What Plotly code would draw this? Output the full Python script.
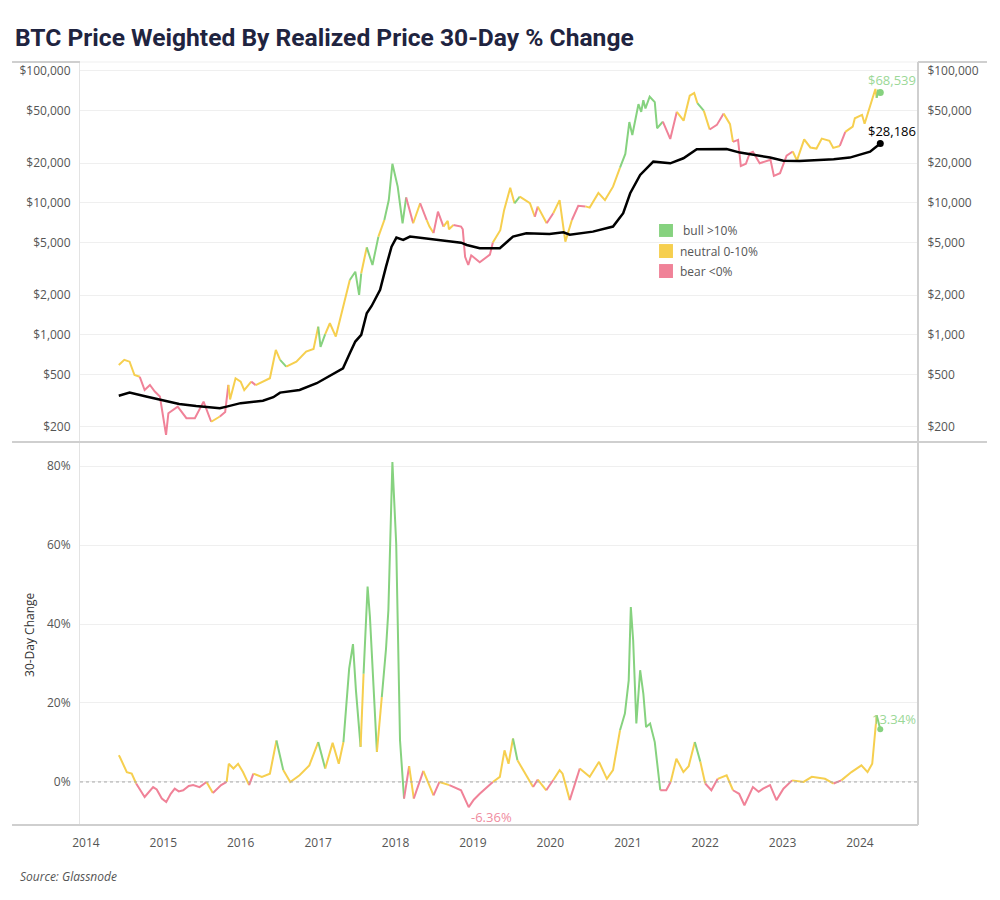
import math
import pandas as pd
import plotly.graph_objects as go
from plotly.subplots import make_subplots

# ---------------- data ----------------
price_dates = [
    "2014-06-05", "2014-07-01", "2014-07-26", "2014-08-18", "2014-09-12", "2014-10-05",
    "2014-10-30", "2014-11-22", "2014-12-16", "2015-01-14", "2015-01-25", "2015-03-10",
    "2015-04-20", "2015-05-30", "2015-07-10", "2015-08-15", "2015-09-25", "2015-10-20",
    "2015-11-04", "2015-11-12", "2015-12-08", "2016-01-01", "2016-01-18", "2016-02-20",
    "2016-03-12", "2016-04-15", "2016-05-18", "2016-06-15", "2016-07-05", "2016-08-03",
    "2016-09-20", "2016-11-05", "2016-12-10", "2017-01-01", "2017-01-12", "2017-02-03",
    "2017-02-25", "2017-03-25", "2017-04-28", "2017-05-30", "2017-06-25", "2017-07-13",
    "2017-07-23", "2017-08-18", "2017-09-14", "2017-10-12", "2017-11-09", "2017-11-30",
    "2017-12-17", "2018-01-11", "2018-02-03", "2018-02-20", "2018-03-25", "2018-04-27",
    "2018-05-28", "2018-06-10", "2018-06-29", "2018-07-20", "2018-08-15", "2018-09-04",
    "2018-09-10", "2018-10-01", "2018-11-06", "2018-11-14", "2018-11-25", "2018-12-10",
    "2018-12-24", "2019-01-10", "2019-02-02", "2019-03-22", "2019-04-05", "2019-05-10",
    "2019-05-28", "2019-06-26", "2019-07-16", "2019-08-10", "2019-09-27", "2019-10-20",
    "2019-11-03", "2019-12-15", "2020-01-15", "2020-02-14", "2020-03-12", "2020-04-12",
    "2020-05-12", "2020-06-15", "2020-07-05", "2020-08-15", "2020-09-15", "2020-10-23",
    "2020-11-25", "2020-12-20", "2021-01-08", "2021-01-22", "2021-02-20", "2021-03-05",
    "2021-03-15", "2021-03-25", "2021-04-14", "2021-05-08", "2021-05-19", "2021-06-15",
    "2021-07-20", "2021-08-20", "2021-09-21", "2021-10-20", "2021-11-10", "2021-11-25",
    "2021-12-25", "2022-01-22", "2022-02-25", "2022-03-29", "2022-04-28", "2022-05-12",
    "2022-06-05", "2022-06-18", "2022-07-12", "2022-07-30", "2022-08-14", "2022-09-15",
    "2022-11-05", "2022-11-21", "2022-12-20", "2023-01-20", "2023-02-18", "2023-03-10",
    "2023-04-13", "2023-05-12", "2023-06-10", "2023-07-05", "2023-08-10", "2023-08-28",
    "2023-09-28", "2023-10-24", "2023-11-28", "2023-12-08", "2024-01-11", "2024-01-23",
    "2024-02-15", "2024-02-28", "2024-03-14", "2024-03-20", "2024-03-26", "2024-04-06",
]
price_usd = [
    590, 645, 625, 495, 480, 381,
    416, 371, 340, 174, 254, 285,
    233, 233, 311, 219, 240, 260,
    416, 323, 468, 441, 381, 441,
    415, 441, 468, 767, 645, 573,
    625, 745, 780, 1150, 810, 1010,
    1222, 968, 1589, 2600, 3006, 2005,
    2924, 4600, 3380, 5550, 7410, 10500,
    19800, 13270, 7000, 11000, 7000, 9930,
    7400, 6610, 5900, 8570, 6610, 7300,
    6300, 6790, 6610, 6300, 3900, 3380,
    4000, 3800, 3550, 4050, 5000, 6200,
    8800, 13000, 9930, 11150, 9930, 7850,
    9360, 7000, 8340, 10500, 5080, 7410,
    9500, 9400, 9200, 11900, 10500, 13270,
    18500, 23500, 41000, 32700, 56000, 49000,
    60000, 52000, 63800, 58000, 36800, 41300,
    30500, 49000, 42000, 65000, 68000, 57000,
    50000, 36000, 39000, 47500, 39500, 29000,
    30000, 19000, 19800, 23800, 24400, 19950,
    21200, 16000, 16800, 22800, 24500, 21000,
    30300, 26300, 25800, 30700, 29500, 26100,
    27000, 34500, 37800, 43800, 46500, 39800,
    52000, 62500, 73000, 62500, 70500, 68539,
]

realized_dates = [
    "2014-06-05", "2014-07-26", "2014-10-12", "2015-01-01", "2015-03-17", "2015-06-05",
    "2015-09-25", "2015-10-27", "2016-01-01", "2016-04-15", "2016-06-03", "2016-07-05",
    "2016-10-05", "2016-12-25", "2017-03-15", "2017-04-28", "2017-05-30", "2017-06-25",
    "2017-07-23", "2017-08-18", "2017-09-10", "2017-10-20", "2017-11-17", "2017-12-13",
    "2018-01-05", "2018-02-06", "2018-03-10", "2018-06-10", "2018-08-28", "2018-11-06",
    "2018-12-03", "2019-02-02", "2019-05-08", "2019-07-09", "2019-09-10", "2019-12-28",
    "2020-03-03", "2020-04-02", "2020-07-20", "2020-10-23", "2020-12-10", "2021-01-12",
    "2021-02-28", "2021-05-01", "2021-07-20", "2021-09-20", "2021-11-22", "2022-04-12",
    "2022-06-14", "2022-11-03", "2023-01-05", "2023-03-22", "2023-08-30", "2023-11-14",
    "2024-02-18", "2024-04-06",
]
realized_usd = [
    345, 364, 340, 316, 299, 288,
    277, 285, 303, 316, 336, 364,
    381, 429, 510, 557, 724, 888,
    998, 1457, 1653, 2188, 3284, 4650,
    5450, 5230, 5550, 5330, 5170, 4990,
    4790, 4530, 4530, 5550, 5890, 5810,
    5990, 5740, 6050, 6610, 8340, 11830,
    16290, 20530, 19950, 21780, 25480, 25640,
    24050, 22040, 20900, 20800, 21400, 22040,
    24450, 28186,
]

change_dates = [
    "2014-06-05", "2014-06-10", "2014-07-13", "2014-08-05", "2014-08-26", "2014-10-05",
    "2014-11-14", "2014-12-01", "2014-12-25", "2015-01-15", "2015-02-05", "2015-02-24",
    "2015-03-15", "2015-04-05", "2015-05-01", "2015-05-22", "2015-06-21", "2015-07-24",
    "2015-08-23", "2015-09-15", "2015-10-01", "2015-10-27", "2015-11-06", "2015-11-28",
    "2015-12-20", "2016-01-12", "2016-02-10", "2016-03-01", "2016-04-10", "2016-05-18",
    "2016-06-18", "2016-07-20", "2016-08-22", "2016-10-05", "2016-11-20", "2017-01-01",
    "2017-02-03", "2017-03-10", "2017-04-08", "2017-04-30", "2017-05-27", "2017-06-14",
    "2017-06-28", "2017-07-20", "2017-08-03", "2017-08-22", "2017-09-02", "2017-10-05",
    "2017-10-28", "2017-11-17", "2017-11-28", "2017-12-17", "2018-01-04", "2018-01-22",
    "2018-02-10", "2018-03-06", "2018-03-28", "2018-05-12", "2018-06-29", "2018-07-27",
    "2018-09-12", "2018-11-06", "2018-12-12", "2019-01-05", "2019-02-02", "2019-03-05",
    "2019-04-05", "2019-05-08", "2019-05-30", "2019-06-18", "2019-07-09", "2019-07-30",
    "2019-09-02", "2019-10-12", "2019-11-03", "2019-12-13", "2020-01-15", "2020-02-14",
    "2020-02-28", "2020-04-02", "2020-05-19", "2020-07-05", "2020-08-18", "2020-09-24",
    "2020-10-23", "2020-11-25", "2020-12-18", "2021-01-05", "2021-01-15", "2021-01-26",
    "2021-02-10", "2021-02-28", "2021-03-15", "2021-03-28", "2021-04-16", "2021-05-08",
    "2021-06-03", "2021-07-01", "2021-07-22", "2021-08-18", "2021-09-20", "2021-10-15",
    "2021-11-13", "2021-12-09", "2022-01-01", "2022-01-30", "2022-03-01", "2022-04-12",
    "2022-05-12", "2022-06-10", "2022-07-05", "2022-08-14", "2022-09-10", "2022-10-01",
    "2022-11-03", "2022-12-03", "2023-01-05", "2023-02-15", "2023-03-15", "2023-04-10",
    "2023-05-19", "2023-07-20", "2023-08-30", "2023-10-05", "2023-11-22", "2024-01-08",
    "2024-02-06", "2024-02-28", "2024-03-20", "2024-04-06",
]
change_pct = [
    6.75, 6.3, 2.5, 2.1, -0.4, -3.8,
    -1.3, -1.9, -4.2, -5.1, -3.0, -1.7,
    -2.4, -2.1, -1.0, -0.8, -1.3, 0.0,
    -2.8, -1.6, -0.8, 0.0, 4.6, 3.4,
    4.6, 2.5, -0.8, 2.1, 1.3, 2.1,
    10.5, 3.0, 0.0, 1.7, 4.2, 10.1,
    3.4, 9.9, 4.6, 10.1, 28.7, 34.9,
    23.2, 8.9, 27.4, 49.5, 41.8, 7.6,
    21.5, 33.8, 43.5, 81.0, 60.3, 10.5,
    -4.2, 4.0, -4.2, 2.8, -3.4, 0.0,
    -0.8, -2.1, -6.36, -4.5, -3.0, -1.5,
    0.0, 1.3, 8.0, 4.6, 11.0, 5.5,
    2.5, -1.3, 0.6, -2.1, 0.5, 3.0,
    2.1, -4.6, 3.4, 1.3, 5.1, 0.8,
    3.0, 13.1, 17.3, 25.7, 44.3, 35.9,
    14.8, 28.3, 22.4, 13.9, 14.8, 10.1,
    -2.1, -2.1, 0.0, 5.9, 2.5, 4.0,
    10.1, 5.1, -0.4, -2.1, 0.8, 1.7,
    -2.1, -3.0, -5.9, -1.3, -2.5, -1.7,
    -0.8, -4.6, -1.7, 0.4, 0.2, 0.0,
    1.3, 0.8, -0.4, 0.4, 2.5, 4.2,
    2.5, 4.6, 16.9, 13.34,
]

year_ticks = list(range(2014, 2025))
price_ticks = [200, 500, 1000, 2000, 5000, 10000, 20000, 50000, 100000]
pct_ticks = [0, 20, 40, 60, 80]
regime_labels = {"bull": "bull >10%", "neutral": "neutral 0-10%", "bear": "bear <0%"}

# ---------------- styling ----------------
COLORS = {"bull": "#86d27f", "neutral": "#f6cf4f", "bear": "#f08298"}
LABEL_GREEN = "#9bd897"
LABEL_RED = "#f08ca0"
FONT = "Open Sans"
TICK_COLOR = "#555555"

# page body has an 8px margin: figure is sized/positioned to compensate
FIG_W, FIG_H = 992, 884


def regime(v):
    if v > 10:
        return "bull"
    if v >= 0:
        return "neutral"
    return "bear"


def runs(xs, ys, regs):
    out = []
    start = 0
    n = len(xs)
    for i in range(1, n + 1):
        if i == n or regs[i] != regs[start]:
            end = min(i, n - 1)
            out.append((regs[start], xs[start:end + 1], ys[start:end + 1]))
            start = i
    return out


chg_idx = pd.to_datetime(pd.Series(change_dates))
change_regimes = [regime(v) for v in change_pct]
price_regimes = []
for d in pd.to_datetime(pd.Series(price_dates)):
    k = int(chg_idx.searchsorted(d, side="right")) - 1
    k = max(k, 0)
    price_regimes.append(change_regimes[k])

fig = make_subplots(rows=2, cols=1, shared_xaxes=True, vertical_spacing=0,
                    row_heights=[0.498, 0.502],
                    specs=[[{"secondary_y": True}], [{}]])

# price line coloured by regime
for reg, xs, ys in runs(price_dates, price_usd, price_regimes):
    fig.add_trace(go.Scatter(x=xs, y=ys, mode="lines",
                             line=dict(color=COLORS[reg], width=2),
                             showlegend=False, hoverinfo="x+y"),
                  row=1, col=1, secondary_y=False)
fig.add_trace(go.Scatter(x=[price_dates[-1]], y=[price_usd[-1]], mode="markers",
                         marker=dict(color=COLORS[price_regimes[-1]], size=7),
                         showlegend=False), row=1, col=1, secondary_y=False)

# realized price (on right axis, same scale)
fig.add_trace(go.Scatter(x=realized_dates, y=realized_usd, mode="lines",
                         line=dict(color="#000000", width=2.5), showlegend=False),
              row=1, col=1, secondary_y=True)
fig.add_trace(go.Scatter(x=[realized_dates[-1]], y=[realized_usd[-1]], mode="markers",
                         marker=dict(color="#000000", size=7), showlegend=False),
              row=1, col=1, secondary_y=True)

# 30-day change
for reg, xs, ys in runs(change_dates, change_pct, change_regimes):
    fig.add_trace(go.Scatter(x=xs, y=ys, mode="lines",
                             line=dict(color=COLORS[reg], width=2),
                             showlegend=False), row=2, col=1)
fig.add_trace(go.Scatter(x=[change_dates[-1]], y=[change_pct[-1]], mode="markers",
                         marker=dict(color=COLORS[change_regimes[-1]], size=6),
                         showlegend=False), row=2, col=1)

# ---------------- axes ----------------
log_range = [2.187, 5.068]
x_range = ["2013-12-04", "2024-10-01"]
tick_font = dict(family=FONT, size=12, color=TICK_COLOR)

fig.update_xaxes(domain=[0, 1], range=x_range, showgrid=False, zeroline=False,
                 tickvals=[f"{y}-01-01" for y in year_ticks],
                 ticktext=[str(y) for y in year_ticks])
fig.update_xaxes(showticklabels=False, ticks="", showline=False, row=1, col=1)
fig.update_xaxes(showticklabels=True, ticks="outside", ticklen=7,
                 tickcolor="rgba(0,0,0,0)", tickfont=tick_font,
                 showline=False, row=2, col=1)

price_text = [f"${v:,}" for v in price_ticks]
fig.update_yaxes(type="log", range=log_range, tickvals=price_ticks, ticktext=price_text,
                 showgrid=True, gridcolor="#efefef", gridwidth=1, zeroline=False,
                 showline=True, linecolor="#e3e3e3", linewidth=1,
                 ticks="outside", ticklen=6, tickcolor="rgba(0,0,0,0)",
                 tickfont=tick_font, row=1, col=1, secondary_y=False)
fig.update_yaxes(type="log", range=log_range, tickvals=price_ticks, ticktext=price_text,
                 showgrid=False, zeroline=False, showline=False,
                 ticks="outside", ticklen=6, tickcolor="rgba(0,0,0,0)",
                 tickfont=tick_font, row=1, col=1, secondary_y=True)
fig.update_yaxes(range=[-10.9, 86.1], tickvals=pct_ticks,
                 ticktext=[f"{v}%" for v in pct_ticks],
                 showgrid=True, gridcolor="#efefef", gridwidth=1, zeroline=False,
                 showline=True, linecolor="#e3e3e3", linewidth=1,
                 ticks="outside", ticklen=6, tickcolor="rgba(0,0,0,0)",
                 tickfont=tick_font, row=2, col=1)

# zero reference line (dotted)
fig.add_shape(type="line", xref="x2 domain", x0=0, x1=1, yref="y3", y0=0, y1=0,
              line=dict(color="#a8a8a8", width=1, dash="dot"))

# frame / pane separators
SEP = "#cfcfcf"
top_split = 0.502
for x0, x1, y in [(-0.0811, 1.0823, top_split), (-0.0811, 1.0, 0.0),
                  (-0.0811, 0.0, 1.0), (1.0, 1.0823, 1.0)]:
    fig.add_shape(type="line", xref="paper", yref="paper", x0=x0, x1=x1, y0=y, y1=y,
                  line=dict(color=SEP, width=2))
fig.add_shape(type="line", xref="paper", yref="paper", x0=0, x1=1, y0=1.0, y1=1.0,
              line=dict(color="#efefef", width=1))
fig.add_shape(type="line", xref="paper", yref="paper", x0=1.0, x1=1.0, y0=0, y1=1.0,
              line=dict(color=SEP, width=2))

# ---------------- legend (colour key) ----------------
leg_rows = [("bull", 0.7877, 0.7707, 0.7168), ("neutral", 0.7614, 0.7431, 0.7136),
            ("bear", 0.7352, 0.7169, 0.7136)]
for key, y0, y1, tx in leg_rows:
    fig.add_shape(type="rect", xref="paper", yref="paper", x0=0.691, x1=0.7076,
                  y0=y1, y1=y0, fillcolor=COLORS[key], line=dict(width=0))
    fig.add_annotation(xref="paper", yref="paper", x=tx, y=(y0 + y1) / 2,
                       text=regime_labels[key], showarrow=False, xanchor="left",
                       yanchor="middle", font=dict(family=FONT, size=12, color=TICK_COLOR))

# ---------------- value labels ----------------
fig.add_annotation(xref="paper", yref="y", x=1.0, y=math.log10(price_usd[-1]),
                   yshift=13, text=f"${price_usd[-1]:,}", showarrow=False,
                   xanchor="right", yanchor="middle",
                   font=dict(family=FONT, size=13, color=LABEL_GREEN))
fig.add_annotation(xref="paper", yref="y2", x=1.0, y=math.log10(realized_usd[-1]),
                   yshift=13, text=f"${realized_usd[-1]:,}", showarrow=False,
                   xanchor="right", yanchor="middle",
                   font=dict(family=FONT, size=13, color="#000000"))
fig.add_annotation(xref="paper", yref="y3", x=1.0, y=change_pct[-1],
                   yshift=10, text=f"{change_pct[-1]:.2f}%", showarrow=False,
                   xanchor="right", yanchor="middle",
                   font=dict(family=FONT, size=13, color=LABEL_GREEN))
i_min = change_pct.index(min(change_pct))
fig.add_annotation(xref="x2", yref="y3", x=change_dates[i_min], y=change_pct[i_min],
                   yshift=-10, text=f"{change_pct[i_min]:.2f}%", showarrow=False,
                   xanchor="left", yanchor="middle",
                   font=dict(family=FONT, size=13, color=LABEL_RED))

# axis title for lower pane
fig.add_annotation(xref="paper", yref="paper", x=-0.06, y=0.25, text="30-Day Change",
                   textangle=-90, showarrow=False, xanchor="center", yanchor="middle",
                   font=dict(family=FONT, size=12, color="#333333"))

# source
fig.add_annotation(xref="paper", yref="paper", x=-0.074, y=-0.068,
                   text="<i>Source: Glassnode</i>", showarrow=False,
                   xanchor="left", yanchor="middle",
                   font=dict(family=FONT, size=12, color="#555555"))

fig.update_layout(
    width=FIG_W, height=FIG_H,
    margin=dict(l=72, r=82, t=54, b=67),
    paper_bgcolor="white", plot_bgcolor="white",
    title=dict(text="<b>BTC Price Weighted By Realized Price 30-Day % Change</b>",
               x=7 / FIG_W, xanchor="left", xref="container",
               y=1 - 29 / FIG_H, yanchor="middle", yref="container",
               font=dict(family="Roboto", size=24.6, color="#1f2440")),
    showlegend=False,
)

fig.write_html("out.html")
